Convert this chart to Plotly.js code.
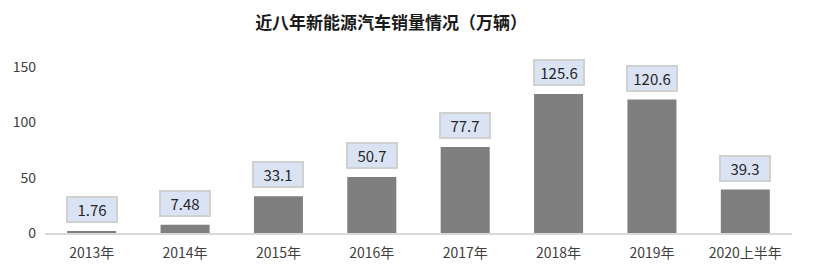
<!DOCTYPE html>
<html><head><meta charset="utf-8">
<script src="https://cdn.plot.ly/plotly-3.0.1.min.js"></script>
<style>html,body{margin:0;padding:0;background:#fff}</style>
</head><body><div id="chart" style="width:820px;height:275px"></div>
<script>
const categories = ['2013年','2014年','2015年','2016年','2017年','2018年','2019年','2020上半年'];
const sales = [1.76, 7.48, 33.1, 50.7, 77.7, 125.6, 120.6, 39.3];
const labels = ['1.76','7.48','33.1','50.7','77.7','125.6','120.6','39.3'];
const yTicks = [0, 50, 100, 150];

const font = '"Noto Sans CJK SC", "Noto Sans", sans-serif';
const trace = {type:'bar', x:categories, y:sales, marker:{color:'#7f7f7f'}, hoverinfo:'none'};
const annotations = categories.map((c,i)=>({
  x:c, y:sales[i], xref:'x', yref:'y', text:labels[i], showarrow:false,
  yanchor:'bottom', yshift:8, width:48, height:23,
  bgcolor:'#dae3f3', bordercolor:'#d0d0d0', borderwidth:2, borderpad:0,
  font:{family:font, size:15, color:'#262626'}
}));
const layout = {
  width:820, height:275,
  margin:{l:45, r:28, t:67, b:42},
  paper_bgcolor:'#fff', plot_bgcolor:'#fff',
  title:{text:'<b>近八年新能源汽车销量情况（万辆）</b>', x:0.477, xanchor:'center', y:0.915, yanchor:'middle',
         font:{family:font, size:17, color:'#1a1a1a'}},
  bargap:0.475,
  showlegend:false,
  xaxis:{type:'category', showline:true, linecolor:'#d9d9d9', linewidth:2, ticks:'', showgrid:false,
         tickfont:{family:font, size:14, color:'#404040'}, ticklabelstandoff:6, fixedrange:true},
  yaxis:{range:[0,150], tickvals:yTicks, showgrid:false, zeroline:false, showline:false, ticks:'',
         tickfont:{family:font, size:14, color:'#404040'}, ticklabelstandoff:8, fixedrange:true},
  annotations:annotations
};
Plotly.newPlot('chart',[trace],layout,{displayModeBar:false, staticPlot:true});
</script></body></html>
